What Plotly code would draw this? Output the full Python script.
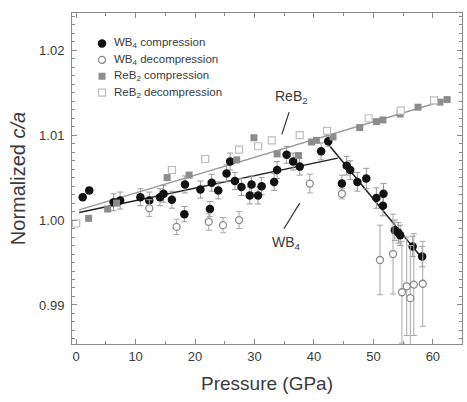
import plotly.graph_objects as go

# ---------------- data ----------------
wb4_comp_p = [1.1, 2.2, 6.3, 7.4, 10.8, 12.3, 14.1, 14.7, 16.1, 18.2, 18.3, 20.9, 22.5, 22.8,
              23.9, 25.3, 25.9, 26.7, 27.8, 29.2, 29.5, 30.6, 31.2, 33.3, 33.8, 35.4, 36.5,
              37.6, 41.2, 42.4, 44.7, 45.5, 46.1, 47.3, 48.8, 50.5, 51.7, 51.6, 53.6, 54.2,
              54.5, 56.6, 58.2]
wb4_comp_ca = [1.0027, 1.0035, 1.0021, 1.0023, 1.0027, 1.0023, 1.0027, 1.0031, 1.0024, 1.0007,
               1.0042, 1.0036, 1.0013, 1.0044, 1.0035, 1.0055, 1.0069, 1.0046, 1.0039, 1.0029,
               1.0042, 1.0029, 1.0040, 1.0045, 1.0059, 1.0077, 1.0069, 1.0063, 1.0081, 1.0093,
               1.0043, 1.0064, 1.0059, 1.0045, 1.0049, 1.0026, 1.0031, 1.0017, 0.9988, 0.9985,
               0.9982, 0.9969, 0.9957]
wb4_comp_err = [0.0003, 0.0003, 0.0010, 0.0010, 0.0010, 0.0010, 0.0010, 0.0010, 0.0010, 0.0009,
                0.0010, 0.0010, 0.0009, 0.0010, 0.0010, 0.0010, 0.0010, 0.0010, 0.0010, 0.0010,
                0.0010, 0.0010, 0.0010, 0.0010, 0.0010, 0.0010, 0.0010, 0.0010, 0.0010, 0.0006,
                0.0010, 0.0011, 0.0011, 0.0011, 0.0012, 0.0012, 0.0012, 0.0012, 0.0012, 0.0012,
                0.0012, 0.0012, 0.0012]

wb4_dec_p = [12.3, 16.9, 22.3, 24.7, 27.4, 39.3, 44.7, 51.1, 53.3, 54.8, 55.6, 56.2, 56.8, 58.3]
wb4_dec_ca = [1.0014, 0.9992, 0.9998, 0.9994, 1.0000, 1.0043, 1.0031, 0.9953, 0.9960, 0.9915,
              0.9922, 0.9908, 0.9924, 0.9925]
wb4_dec_err = [0.0010, 0.0009, 0.0010, 0.0009, 0.0010, 0.0011, 0.0006, 0.0041, 0.0047, 0.0060,
               0.0058, 0.0062, 0.0060, 0.0050]

reb2_comp_p = [2.1, 5.3, 6.8, 15.3, 19.0, 27.0, 29.9, 33.8, 37.4, 39.6, 40.4, 43.2, 47.7, 50.5,
               51.6, 54.5, 57.5, 61.2, 62.4]
reb2_comp_ca = [1.0002, 1.0013, 1.0020, 1.0050, 1.0053, 1.0071, 1.0097, 1.0078, 1.0076, 1.0092,
                1.0094, 1.0098, 1.0109, 1.0116, 1.0118, 1.0125, 1.0133, 1.0139, 1.0142]

reb2_dec_p = [0.0, 16.1, 21.7, 27.4, 30.6, 32.9, 37.6, 42.2, 49.2, 54.6, 60.2]
reb2_dec_ca = [0.9996, 1.0059, 1.0072, 1.0083, 1.0087, 1.0094, 1.0100, 1.0105, 1.0120, 1.0129,
               1.0141]

# linear fits (end points)
reb2_fit_p = [0.5, 62.5]
reb2_fit_ca = [1.0012, 1.0142]
wb4_fit1_p = [0.5, 44.0]
wb4_fit1_ca = [1.0009, 1.0073]
wb4_fit2_p = [42.1, 58.2]
wb4_fit2_ca = [1.0092, 0.9955]

x_ticks = [0, 10, 20, 30, 40, 50, 60]
y_ticks = [0.99, 1.00, 1.01, 1.02]

legend_labels = ["WB<sub>4</sub> compression", "WB<sub>4</sub> decompression",
                 "ReB<sub>2</sub> compression", "ReB<sub>2</sub> decompression"]

FONT = "Liberation Sans, Arial, Helvetica, sans-serif"
TXT = "#3a3a3a"

# series styles (shared by the plotted marks and the legend keys)
styles = [
    dict(symbol="circle", size=8.5, color="#111111", line=dict(width=0)),
    dict(symbol="circle", size=7, color="white", line=dict(width=1.3, color="#8a8a8a")),
    dict(symbol="square", size=7, color="#8c8c8c", line=dict(width=0)),
    dict(symbol="square", size=7, color="white", line=dict(width=1.2, color="#bdbdbd")),
]

fig = go.Figure()

# fit lines
fig.add_trace(go.Scatter(x=reb2_fit_p, y=reb2_fit_ca, mode="lines",
                         line=dict(color="#9a9a9a", width=1.5), hoverinfo="skip"))
fig.add_trace(go.Scatter(x=wb4_fit1_p, y=wb4_fit1_ca, mode="lines",
                         line=dict(color="#222222", width=1.5), hoverinfo="skip"))
fig.add_trace(go.Scatter(x=wb4_fit2_p, y=wb4_fit2_ca, mode="lines",
                         line=dict(color="#222222", width=1.5), hoverinfo="skip"))

# data
fig.add_trace(go.Scatter(
    x=wb4_comp_p, y=wb4_comp_ca, mode="markers", name="WB4 compression", marker=styles[0],
    error_y=dict(type="data", array=wb4_comp_err, color="#9a9a9a", thickness=1, width=3)))
fig.add_trace(go.Scatter(
    x=wb4_dec_p, y=wb4_dec_ca, mode="markers", name="WB4 decompression", marker=styles[1],
    error_y=dict(type="data", array=wb4_dec_err, color="#a8a8a8", thickness=1, width=3)))
fig.add_trace(go.Scatter(
    x=reb2_comp_p, y=reb2_comp_ca, mode="markers", name="ReB2 compression", marker=styles[2]))
fig.add_trace(go.Scatter(
    x=reb2_dec_p, y=reb2_dec_ca, mode="markers", name="ReB2 decompression", marker=styles[3]))

# compact legend drawn in paper space (keys as pixel-sized shapes, labels as text)
leg_x = 0.077      # paper x of key centres
leg_y0 = 0.908     # paper y of first row
leg_dy = 0.0495    # row spacing in paper units
for i, (lab, st) in enumerate(zip(legend_labels, styles)):
    yy = leg_y0 - i * leg_dy
    r = st["size"] / 2
    fill = st["color"]
    lw = st["line"].get("width", 0)
    lc = st["line"].get("color", fill)
    fig.add_shape(type="circle" if st["symbol"] == "circle" else "rect",
                  xref="paper", yref="paper", xsizemode="pixel", ysizemode="pixel",
                  xanchor=leg_x, yanchor=yy, x0=-r, x1=r, y0=-r, y1=r,
                  fillcolor=fill, line=dict(width=lw, color=lc))
    fig.add_annotation(xref="paper", yref="paper", x=leg_x + 0.026, y=yy, xanchor="left",
                       yanchor="middle", text=lab, showarrow=False,
                       font=dict(family=FONT, size=11.5, color=TXT))

# labels with pointer lines
fig.add_annotation(x=36.3, y=1.0145, text="ReB<sub>2</sub>", showarrow=False,
                   font=dict(family=FONT, size=14, color=TXT))
fig.add_annotation(x=34.6, y=1.0101, ax=35.9, ay=1.0129, axref="x", ayref="y",
                   showarrow=True, arrowhead=0, arrowwidth=1.2, arrowcolor="#333333", text="")
fig.add_annotation(x=35.4, y=0.9973, text="WB<sub>4</sub>", showarrow=False,
                   font=dict(family=FONT, size=14, color=TXT))
fig.add_annotation(x=37.6, y=1.0020, ax=34.8, ay=0.9988, axref="x", ayref="y",
                   showarrow=True, arrowhead=0, arrowwidth=1.2, arrowcolor="#333333", text="")

axis_common = dict(showline=True, linecolor="#8a8a8a", linewidth=1, mirror="ticks",
                   ticks="inside", tickcolor="#8a8a8a", showgrid=False, zeroline=False,
                   tickfont=dict(family=FONT, size=13, color=TXT))

fig.update_xaxes(range=[-0.7, 64.9], tickvals=x_ticks, ticklen=5,
                 minor=dict(ticks="inside", dtick=5, ticklen=3, tickcolor="#8a8a8a"),
                 title=dict(text="Pressure (GPa)", font=dict(family=FONT, size=19, color=TXT),
                            standoff=14),
                 **axis_common)
fig.update_yaxes(range=[0.9854, 1.0244], tickvals=y_ticks, tickformat=".2f", ticklen=5,
                 ticklabelstandoff=4,
                 minor=dict(ticks="inside", dtick=0.001, ticklen=3, tickcolor="#8a8a8a"),
                 title=dict(text="Normalized <i>c/a</i>", font=dict(family=FONT, size=20, color=TXT),
                            standoff=8),
                 **axis_common)

fig.update_layout(
    width=467, height=402,
    margin=dict(l=72, r=5, t=13, b=58),
    paper_bgcolor="white", plot_bgcolor="white",
    font=dict(family=FONT, color=TXT),
    showlegend=False,
)

fig.write_html("out.html", config={"displayModeBar": False},
               post_script="document.body.style.margin='0';")
